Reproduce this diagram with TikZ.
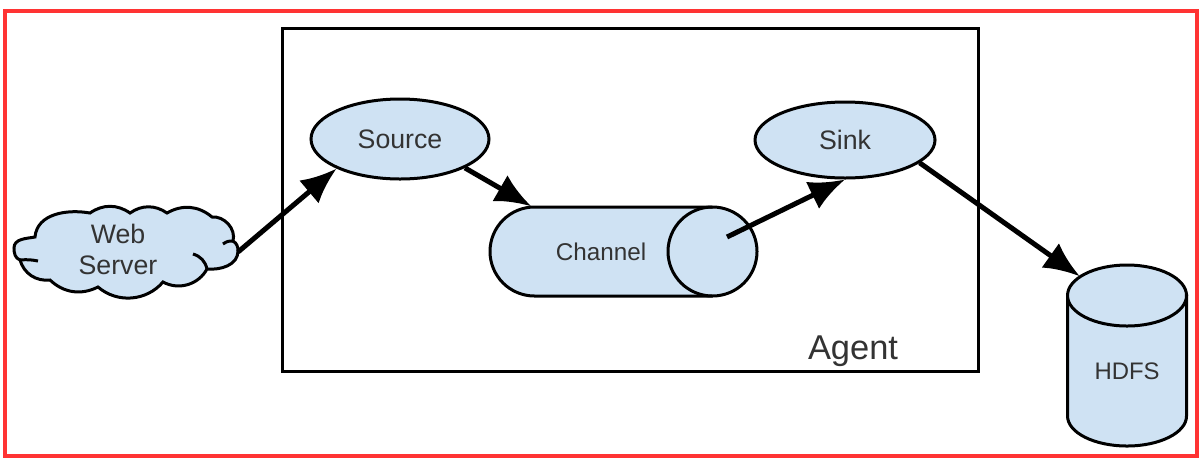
\documentclass[tikz,border=0pt]{standalone}
\usepackage{fontspec}
\setmainfont{Liberation Sans}
\usetikzlibrary{arrows.meta,shapes.geometric}
\definecolor{flumeblue}{HTML}{CFE2F3}
\definecolor{labelgray}{HTML}{333333}
\definecolor{framered}{HTML}{FF3333}
\tikzset{
  flow/.style={-{Latex[length=.36cm,width=.3cm]},line width=.05cm,black},
  part/.style={draw=black,line width=.03cm,fill=flumeblue},
  tag/.style={text=labelgray,inner sep=0pt},
}
\begin{document}
\begin{tikzpicture}[font=\fontsize{7.6pt}{8.8pt}\selectfont]
\useasboundingbox (0,0) rectangle (12.02,4.61);
\draw[framered,line width=.04cm] (.05,.05) rectangle (11.97,4.5);
\draw[line width=.03cm] (2.82,.9) rectangle (9.78,4.33);
\node[tag,font=\fontsize{9.8pt}{12pt}\selectfont] (agent) at (8.53,1.1) {Agent};
% cloud, lobe by lobe
\draw[part] (.35,2.24) to[out=85,in=170] (.9,2.48) to[bend left=35] (1.3,2.48)
  to[bend left=35] (1.67,2.48) to[bend left=35] (2.12,2.44) to[out=5,in=75] (2.33,2.2)
  to[out=-30,in=90] (2.38,2.1) to[out=270,in=-5] (2.07,1.92) to[bend left=45] (1.63,1.79)
  to[bend left=45] (.98,1.74) to[bend left=35] (.5,1.81) to[bend left=40] (.2,2.01)
  to[out=160,in=270] (.14,2.13) to[out=90,in=190] (.35,2.24) -- cycle;
\draw[line width=.03cm] (.2,2.01) to[bend left=8] (.38,2);
\draw[line width=.03cm] (1.93,2.07) to[bend left=30] (2.07,1.92);
\draw[line width=.03cm] (2.23,2.17) to[bend left=20] (2.33,2.2);
\node[tag,align=center] (web) at (1.18,2.12) {Web\\Server};
\coordinate (webout) at (2.38,2.09);
\node[part,ellipse,inner sep=0pt,minimum width=1.78cm,minimum height=.8cm,text=labelgray] (source) at (4,3.22) {Source};
\node[part,ellipse,inner sep=0pt,minimum width=1.8cm,minimum height=.76cm,text=labelgray] (sink) at (8.45,3.21) {Sink};
% channel lying on its side
\draw[part] (5.345,1.65) arc (270:90:.445)--(7.125,2.54) arc (90:-90:.445)--cycle;
\draw[line width=.03cm] (7.125,2.54) arc (90:270:.445);
\node[tag,minimum width=2.24cm,minimum height=.89cm,font=\fontsize{6.9pt}{8pt}\selectfont] (channel) at (6.01,2.095) {Channel};
\coordinate (channelout) at (7.27,2.24);
% hdfs drum
\draw[part] (10.675,1.655)--(10.675,.45) arc (180:360:.595 and .3)--(11.865,1.655)--cycle;
\draw[part] (11.27,1.655) ellipse (.595 and .305);
\node[tag,minimum width=1.19cm,minimum height=1.5cm,font=\fontsize{6.8pt}{8pt}\selectfont] (hdfs) at (11.27,.9) {HDFS};
\draw[flow] (webout)--(source.205);
\draw[flow] (source.-24)--([xshift=.43cm]channel.north west);
\draw[flow] (channelout)--(sink.south);
\draw[flow] (sink.-17)--([shift={(.13,.19)}]hdfs.north west);
\end{tikzpicture}
\end{document}
